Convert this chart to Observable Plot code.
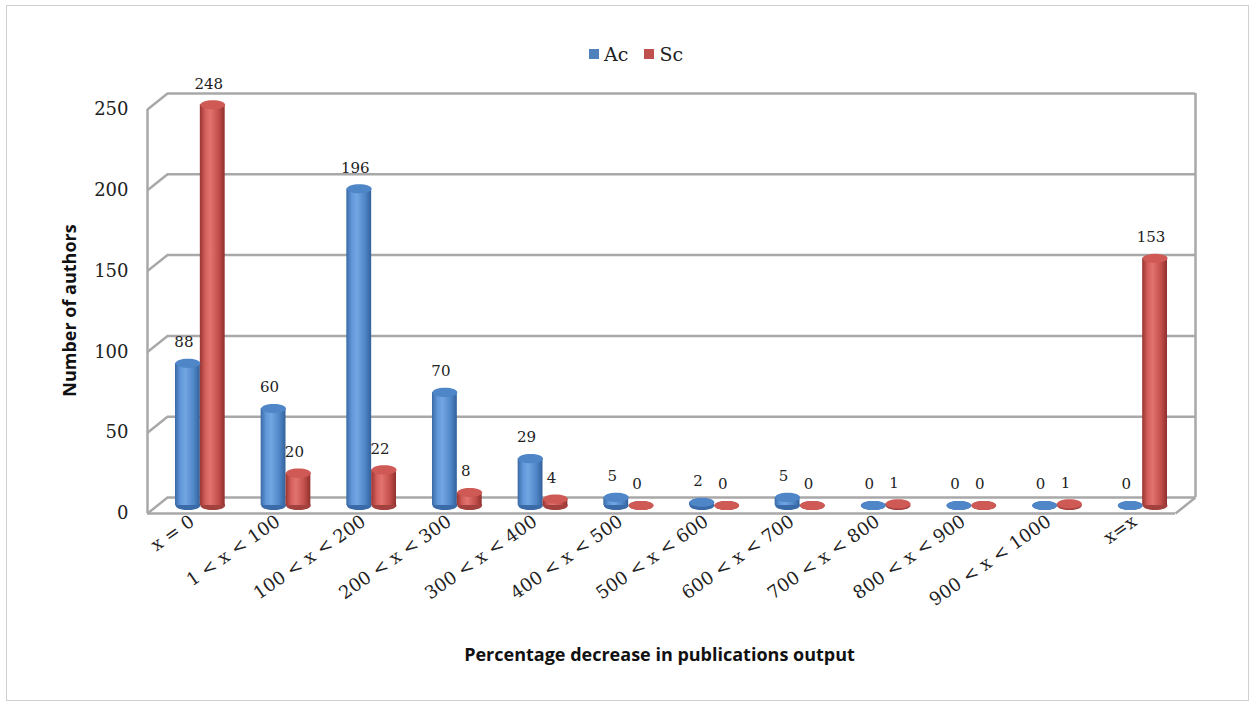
<!DOCTYPE html>
<html><head><meta charset="utf-8">
<script src="https://cdn.jsdelivr.net/npm/d3@7"></script>
<script src="https://cdn.jsdelivr.net/npm/@observablehq/plot@0.6"></script>
<style>
body{margin:0;background:#fff;}
#wrap{position:relative;width:1254px;height:715px;overflow:hidden;background:#fff;}
#border{position:absolute;left:6px;top:5px;width:1241px;height:694px;border:1px solid #d0d0d0;}
#legend{position:absolute;top:43px;left:589px;font-family:"DejaVu Serif";font-size:19px;color:#222;display:flex;align-items:center;}
#legend .sw{width:10px;height:10px;display:inline-block;margin-right:5px;}
#legend .it{display:flex;align-items:center;margin-right:16px;}
#chart{position:absolute;left:0;top:75px;}
</style></head><body>
<div id="wrap"><div id="border"></div><div id="legend"></div><div id="chart"></div></div>
<script>
const categories = ["x = 0","1 < x < 100","100 < x < 200","200 < x < 300","300 < x < 400","400 < x < 500","500 < x < 600","600 < x < 700","700 < x < 800","800 < x < 900","900 < x < 1000","x=x"];
const acValues = [88,60,196,70,29,5,2,5,0,0,0,0];
const scValues = [248,20,22,8,4,0,0,0,1,0,1,153];
const seriesNames = ["Ac","Sc"];
const seriesColors = ["#4f81bd","#c0504d"];
const yTicks = [0,50,100,150,200,250];
const xTitle = "Percentage decrease in publications output";
const yTitle = "Number of authors";

const W = 0.29;
const rows = categories.flatMap((c, i) => [
  {cat: c, i, series: "Ac", value: acValues[i], x1: i - W, x2: i, xc: i - W / 2},
  {cat: c, i, series: "Sc", value: scValues[i], x1: i, x2: i + W, xc: i + W / 2}
]);
const ac = rows.filter(d => d.series === "Ac");
const sc = rows.filter(d => d.series === "Sc");

const ellipse = (rx, ry) => ({draw(ctx) {
  const k = 0.5523;
  ctx.moveTo(rx, 0);
  ctx.bezierCurveTo(rx, ry * k, rx * k, ry, 0, ry);
  ctx.bezierCurveTo(-rx * k, ry, -rx, ry * k, -rx, 0);
  ctx.bezierCurveTo(-rx, -ry * k, -rx * k, -ry, 0, -ry);
  ctx.bezierCurveTo(rx * k, -ry, rx, -ry * k, rx, 0);
  ctx.closePath();
}});
const diag = {draw(ctx) { ctx.moveTo(-10, 8); ctx.lineTo(10, -8); }};
const cap = ellipse(12.4, 4.6);
const grid = "#a8a8a8";

const plot = Plot.plot({
  width: 1254,
  height: 625,
  marginLeft: 157,
  marginRight: 69,
  marginTop: 26,
  marginBottom: 195,
  x: {type: "linear", domain: [-0.5, 11.5]},
  y: {domain: [0, 250]},
  style: {fontFamily: "DejaVu Serif", fontSize: "18px", color: "#222", background: "transparent"},
  marks: [
    Plot.ruleY(yTicks, {y: d => d, dx: 10, dy: -8, stroke: grid, strokeWidth: 2.5}),
    Plot.dot(yTicks, {x: () => -0.5, y: d => d, symbol: diag, stroke: grid, fill: "none", strokeWidth: 2.5}),
    Plot.ruleX([-0.5], {x: d => d, y1: 0, y2: 250, dx: -10, dy: 8, stroke: grid, strokeWidth: 2.5}),
    Plot.ruleX([11.5], {x: d => d, y1: 0, y2: 250, dx: 10, dy: -8, stroke: grid, strokeWidth: 2.5}),
    Plot.dot([0], {x: () => 11.5, y: d => d, symbol: diag, stroke: grid, fill: "none", strokeWidth: 2.5}),
    Plot.ruleY([0], {y: d => d, dx: -10, dy: 8, stroke: grid, strokeWidth: 2.5}),
    // bottom caps
    Plot.dot(ac, {x: "xc", y: () => 0, symbol: cap, fill: "#3a6ba8"}),
    Plot.dot(sc, {x: "xc", y: () => 0, symbol: cap, fill: "#a3413e"}),
    // bodies
    Plot.rectY(ac, {x1: "x1", x2: "x2", y1: () => 0, y2: "value", fill: "url(#gA)"}),
    Plot.rectY(sc, {x1: "x1", x2: "x2", y1: () => 0, y2: "value", fill: "url(#gS)"}),
    // top caps
    Plot.dot(ac, {x: "xc", y: "value", symbol: cap, fill: "#4f86c8"}),
    Plot.dot(sc, {x: "xc", y: "value", symbol: cap, fill: "#cf5955"}),
    // value labels
    Plot.text(rows, {x: "xc", y: "value", text: d => String(d.value), dy: -21, dx: -4, fontSize: 15, fill: "#222"}),
    Plot.axisY(yTicks, {tickSize: 0, tickPadding: 29, dy: 8, label: null, fontSize: 18}),
    Plot.axisX(d3.range(categories.length), {tickFormat: i => categories[i], tickRotate: -35, tickSize: 0, tickPadding: 14, dx: -8, label: null, fontSize: 18}),
    Plot.text([yTitle], {text: d => d, frameAnchor: "left", textAnchor: "middle", dx: -87, dy: 7, rotate: -90, fontFamily: "Open Sans", fontWeight: "bold", fontSize: 18, fill: "#111"}),
    Plot.text([xTitle], {text: d => d, frameAnchor: "bottom", textAnchor: "middle", dx: -12, dy: 155, fontFamily: "Open Sans", fontWeight: "bold", fontSize: 18, fill: "#111"})
  ]
});

plot.insertAdjacentHTML("afterbegin", `<defs>
<linearGradient id="gA" x1="0" x2="1" y1="0" y2="0">
<stop offset="0" stop-color="#3a6aa5"/><stop offset="0.22" stop-color="#6198da"/><stop offset="0.42" stop-color="#71a6e2"/><stop offset="0.75" stop-color="#5087c8"/><stop offset="1" stop-color="#33619b"/>
</linearGradient>
<linearGradient id="gS" x1="0" x2="1" y1="0" y2="0">
<stop offset="0" stop-color="#983431"/><stop offset="0.22" stop-color="#d35f5b"/><stop offset="0.42" stop-color="#e2736f"/><stop offset="0.75" stop-color="#c44f4b"/><stop offset="1" stop-color="#8f302d"/>
</linearGradient></defs>`);
document.getElementById("chart").appendChild(plot);

const legend = document.getElementById("legend");
seriesNames.forEach((s, k) => {
  const it = document.createElement("span");
  it.className = "it";
  it.innerHTML = `<span class="sw" style="background:${seriesColors[k]}"></span><span>${s}</span>`;
  legend.appendChild(it);
});
</script>
</body></html>
